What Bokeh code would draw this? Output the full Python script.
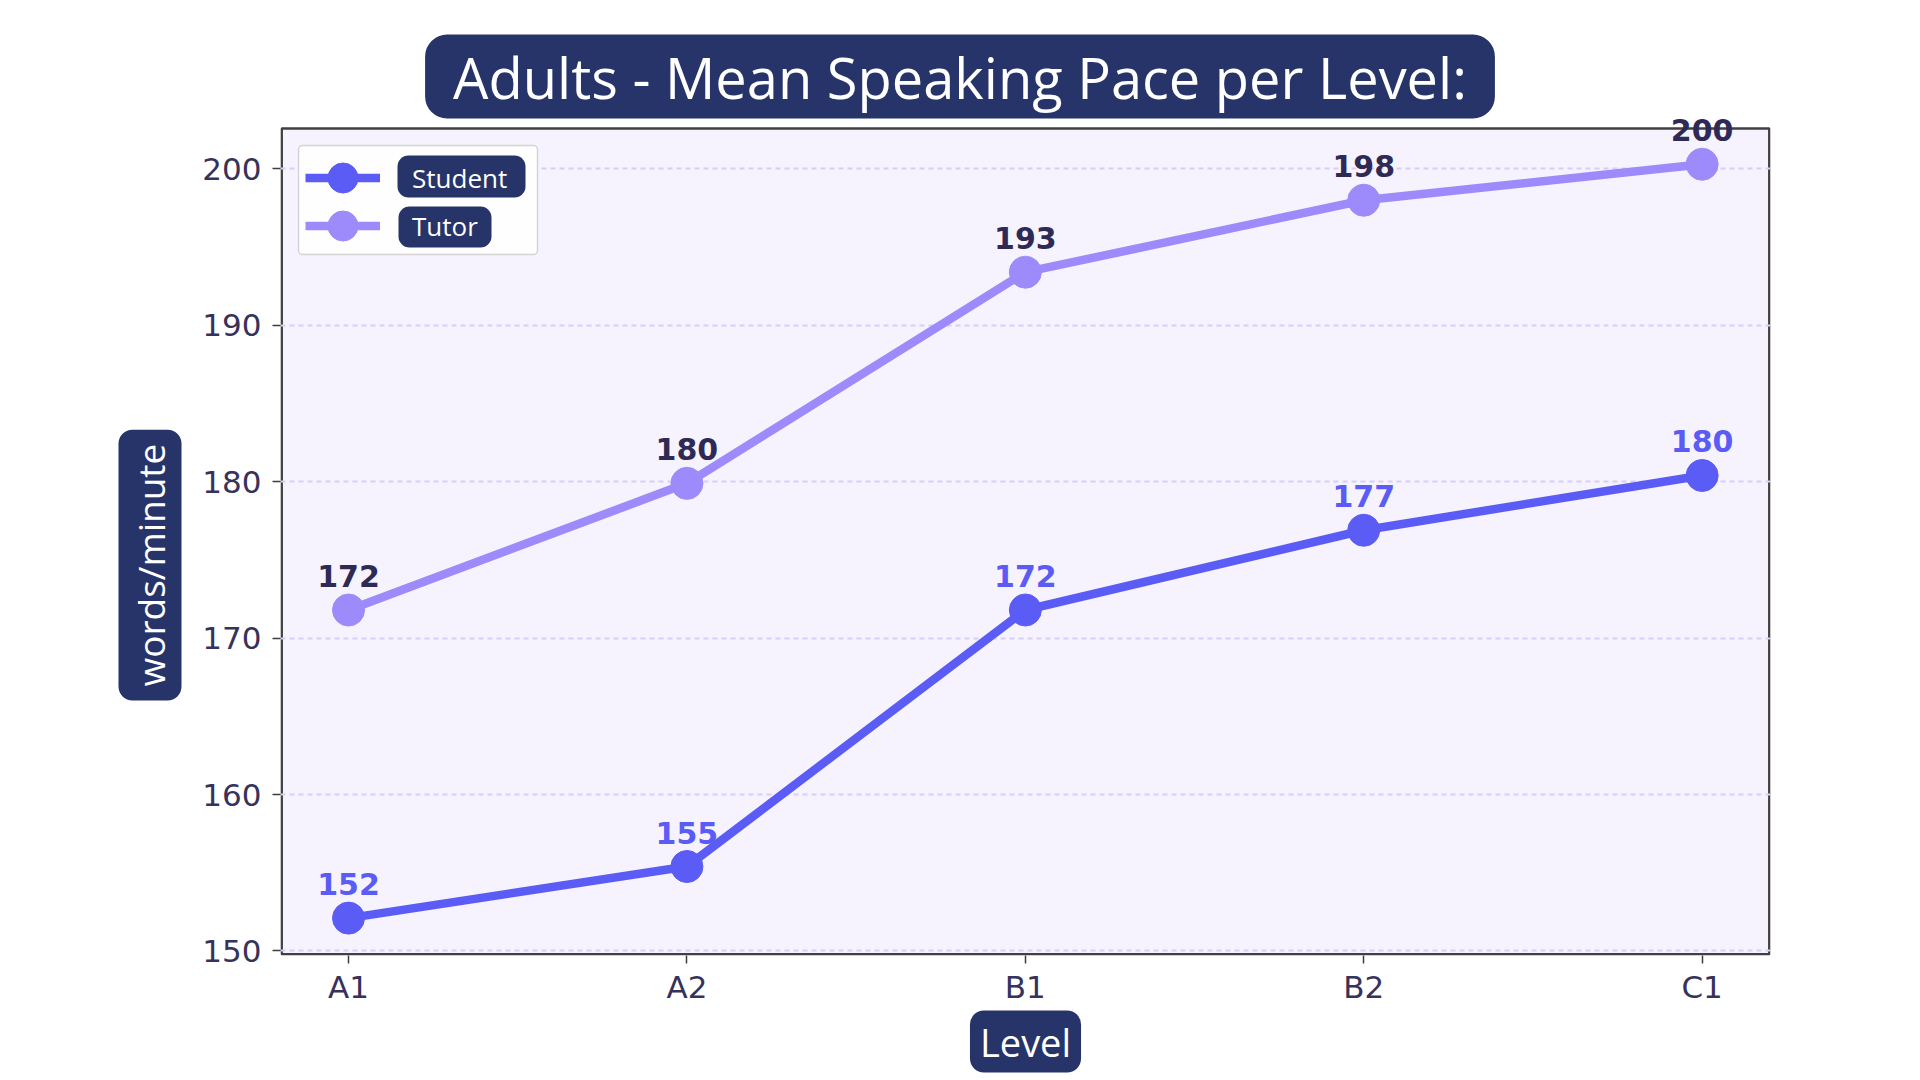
import math
from bokeh.plotting import figure
from bokeh.models import (ColumnDataSource, Range1d, FixedTicker, Label, LabelSet,
                          BoxAnnotation, Legend, LegendItem, Title)
from bokeh.core.properties import value
from bokeh.embed import file_html
from bokeh.resources import INLINE

# ---- data ----
levels = ["A1", "A2", "B1", "B2", "C1"]
student_wpm = [152.1, 155.4, 171.8, 176.9, 180.4]
tutor_wpm = [171.8, 179.9, 193.4, 198.0, 200.3]
y_ticks = [150, 160, 170, 180, 190, 200]
series_names = ["Student", "Tutor"]
title_text = "Adults - Mean Speaking Pace per Level:"
x_label_text = "Level"
y_label_text = "words/minute"

# ---- styles ----
STUDENT = "#5b5cf6"
TUTOR = "#9d8bfb"
NAVY = "#273469"
TICK_COL = "#36325c"
TUTOR_LBL = "#2e2a55"
PLOT_BG = "#f6f3fe"
FRAME_H_PX = 827      # visible plot-area height in pixels
FRAME_W_PX = 1490

x_idx = list(range(len(levels)))
src_s = ColumnDataSource(dict(x=x_idx, y=student_wpm, lbl=[f"{v:.0f}" for v in student_wpm]))
src_t = ColumnDataSource(dict(x=x_idx, y=tutor_wpm, lbl=[f"{v:.0f}" for v in tutor_wpm]))

p = figure(width=1880, height=1080, output_backend="svg", toolbar_location=None, title=None,
           x_range=Range1d(-0.201, 4.202), y_range=Range1d(149.71, 210.77),
           min_border_left=280, min_border_right=110, min_border_top=0, min_border_bottom=125)
p.background_fill_color = "white"
p.border_fill_color = "white"
p.outline_line_color = None

# plot area panel (drawn beneath grid)
p.add_layout(BoxAnnotation(left=1.2, right=FRAME_W_PX - 1.2, bottom=1.2, top=FRAME_H_PX,
                           left_units="screen", right_units="screen",
                           top_units="screen", bottom_units="screen",
                           fill_color=PLOT_BG, fill_alpha=1,
                           line_color="#404040", line_alpha=1, line_width=2.5, level="image"))

p.xgrid.grid_line_color = None
p.ygrid.ticker = FixedTicker(ticks=y_ticks)
p.ygrid.grid_line_color = "#d6cefa"
p.ygrid.grid_line_dash = "5 4"
p.ygrid.grid_line_width = 1.8

p.yaxis.ticker = FixedTicker(ticks=y_ticks)
p.xaxis.ticker = FixedTicker(ticks=x_idx)
p.xaxis.major_label_overrides = {i: lv for i, lv in enumerate(levels)}
for ax in (p.xaxis[0], p.yaxis[0]):
    ax.axis_line_color = None
    ax.major_tick_out = 8
    ax.major_tick_in = 0
    ax.major_tick_line_color = "#3f3f3f"
    ax.major_tick_line_width = 1.5
    ax.minor_tick_line_color = None
    ax.major_label_text_font = "DejaVu Sans"
    ax.major_label_text_font_size = "31px"
    ax.major_label_text_color = TICK_COL
p.yaxis.major_label_standoff = 11
p.xaxis.major_label_standoff = 5

# ---- legend background boxes (screen units relative to frame) ----
p.add_layout(BoxAnnotation(left=18, right=257, top=810, bottom=701,
                           left_units="screen", right_units="screen",
                           top_units="screen", bottom_units="screen",
                           fill_color="white", fill_alpha=0.9,
                           line_color="#d4d4d4", line_alpha=1, line_width=1.5, border_radius=4))
p.add_layout(BoxAnnotation(left=117, right=245, top=800, bottom=758,
                           left_units="screen", right_units="screen",
                           top_units="screen", bottom_units="screen",
                           fill_color=NAVY, fill_alpha=1, line_color=None, border_radius=11))
p.add_layout(BoxAnnotation(left=118, right=211, top=749, bottom=708,
                           left_units="screen", right_units="screen",
                           top_units="screen", bottom_units="screen",
                           fill_color=NAVY, fill_alpha=1, line_color=None, border_radius=11))

# ---- series ----
ls = p.line("x", "y", source=src_s, line_color=STUDENT, line_width=8.5)
ss = p.scatter("x", "y", source=src_s, size=32, fill_color=STUDENT, line_color=STUDENT)
lt = p.line("x", "y", source=src_t, line_color=TUTOR, line_width=8.5)
st = p.scatter("x", "y", source=src_t, size=32, fill_color=TUTOR, line_color=TUTOR)

p.add_layout(LabelSet(x="x", y="y", text="lbl", source=src_s, text_align="center",
                      text_baseline="alphabetic", y_offset=23, text_font=value("DejaVu Sans"),
                      text_font_style="bold", text_font_size="30px", text_color=STUDENT))
p.add_layout(LabelSet(x="x", y="y", text="lbl", source=src_t, text_align="center",
                      text_baseline="alphabetic", y_offset=23, text_font=value("DejaVu Sans"),
                      text_font_style="bold", text_font_size="30px", text_color=TUTOR_LBL))

legend_style = dict(orientation="vertical", background_fill_alpha=0, border_line_alpha=0,
                    glyph_width=75, glyph_height=75, label_height=75, label_width=110,
                    label_standoff=32, padding=0, spacing=0, margin=0,
                    label_text_color="white", label_text_font="Open Sans",
                    label_text_font_size="26px")
p.add_layout(Legend(items=[LegendItem(label=series_names[0], renderers=[ls, ss])],
                    location=(25, 740), **legend_style))
p.add_layout(Legend(items=[LegendItem(label=series_names[1], renderers=[lt, st])],
                    location=(25, 692), **legend_style))

# ---- title (inside the tall frame) ----
p.add_layout(Label(x=679.5, y=879, x_units="screen", y_units="screen", text=title_text,
                   text_align="center", text_baseline="middle", text_font="Open Sans",
                   text_font_size="56px", text_color="white",
                   background_fill_color=NAVY, background_fill_alpha=1,
                   padding=(28, 4), border_radius=22))

# ---- axis labels as boxed titles ----
p.add_layout(Title(text=y_label_text, align="left", offset=255, standoff=36,
                   text_font="Open Sans", text_font_size="37px", text_font_style="normal",
                   text_color="white", background_fill_color=NAVY, background_fill_alpha=1,
                   padding=(14, 6), border_radius=14), "left")
p.add_layout(Title(text=x_label_text, align="center", standoff=2,
                   text_font="Open Sans", text_font_size="38px", text_font_style="normal",
                   text_color="white", background_fill_color=NAVY, background_fill_alpha=1,
                   padding=(10, 5), border_radius=14), "below")

open("out.html", "w").write(file_html(p, INLINE))
